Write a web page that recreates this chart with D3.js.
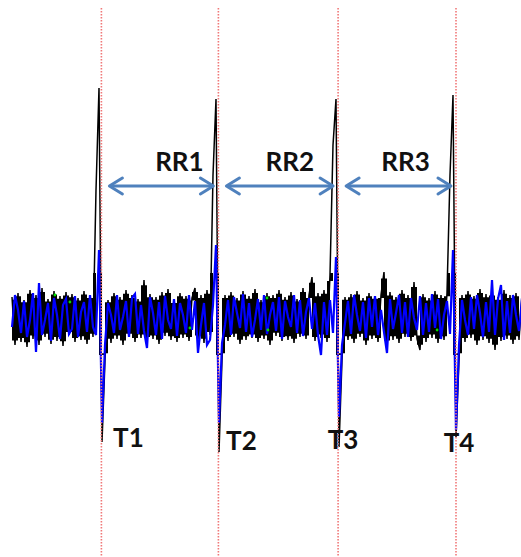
<!DOCTYPE html>
<html>
<head>
<meta charset="utf-8">
<script src="https://cdn.jsdelivr.net/npm/d3@7"></script>
<style>
  html, body { margin: 0; padding: 0; background: #fff; }
  svg { display: block; }
  text { font-family: Lato, "Open Sans", sans-serif; font-weight: 700; fill: #111; }
</style>
</head>
<body>
<div id="chart"></div>
<script>
let w = 521;
let h = 557;

// black trace, one sample every step (amplitude, arbitrary units)
const blackTrace = [
  0.18, -0.3, 0.22, -0.27, 0.15, -0.32, 0.25, -0.24, 0.2, -0.3,
  0.27, -0.22, 0.16, -0.29, 0.24, -0.26, 0.19, -0.31, 0.23, -0.2,
  0.21, -0.27, 0.17, -0.25, 0.24, -0.29, 0.2, -0.22, 1.25, 2.27,
  -1.27, -0.45, 0.15, -0.28, 0.22, -0.24, 0.18, -0.3, 0.25, -0.22,
  0.2, -0.27, 0.16, -0.23, 0.35, -0.26, 0.21, -0.24, 0.18, -0.29,
  0.23, -0.21, 0.26, -0.25, 0.14, -0.27, 0.22, -0.23, 0.19, -0.26,
  0.17, 0.27, -0.24, 0.2, -0.28, 0.25, -0.2, 1.4, 2.16, -1.37,
  -0.45, 0.2, -0.26, 0.23, -0.22, 0.17, -0.29, 0.24, -0.25, 0.19,
  -0.23, 0.26, -0.27, 0.15, -0.24, 0.22, -0.3, 0.2, -0.21, 0.25,
  -0.26, 0.18, -0.25, 0.23, -0.28, 0.16, -0.22, 0.27, -0.24, 0.2,
  0.38, -0.26, 0.22, -0.23, 0.25, -0.27, 0.4, 1.7, 2.16, -1.32,
  -0.45, 0.18, -0.25, 0.21, -0.28, 0.24, -0.22, 0.17, -0.3, 0.22,
  -0.24, 0.19, -0.27, 0.2, 0.43, -0.3, 0.23, -0.25, 0.18, -0.28,
  0.25, -0.22, 0.2, -0.26, 0.33, -0.24, -0.35, 0.21, -0.27, 0.17,
  -0.23, 0.24, -0.28, 0.2, -0.25, 0.22, 1.4, 2.2, -1.22, -0.45,
  0.2, -0.27, 0.24, -0.23, 0.19, -0.3, 0.26, -0.25, 0.21, -0.28,
  0.23, -0.35, 0.18, -0.26, 0.25, -0.24, 0.2, -0.29, 0.22, -0.25, 0.2
];

// blue trace, same sampling
const blueTrace = [
  -0.12, 0.2, 0.05, -0.18, 0.14, -0.22, -0.05, 0.22, -0.37, 0.32,
  -0.2, -0.05, 0.12, -0.26, 0.17, 0.0, -0.24, 0.1, 0.16, -0.19,
  -0.14, 0.19, -0.22, 0.03, 0.13, -0.17, 0.2, -0.12, -0.2, 0.65,
  -1.08, -0.3, 0.12, 0.0, -0.18, 0.2, -0.15, -0.02, 0.14, -0.22,
  0.17, 0.21, -0.19, 0.1, -0.16, -0.33, 0.18, 0.02, -0.2, 0.13,
  -0.24, 0.19, -0.05, -0.14, 0.16, -0.21, 0.12, 0.0, -0.18, 0.2,
  -0.15, 0.14, -0.38, -0.1, 0.12, -0.3, -0.25, 0.1, 0.7, -1.08,
  -0.28, -0.1, 0.15, -0.2, 0.18, 0.02, -0.13, 0.21, -0.17, 0.12,
  -0.22, -0.05, 0.16, -0.15, 0.2, -0.19, 0.0, 0.13, -0.16, 0.18,
  -0.24, 0.14, -0.02, -0.12, 0.2, -0.18, 0.15, -0.21, 0.03, 0.17,
  -0.14, 0.12, -0.2, -0.4, 0.13, -0.2, 0.15, -0.18, 0.58, -1.02,
  -0.3, -0.08, 0.14, -0.19, 0.2, 0.0, -0.16, 0.13, -0.23, 0.17,
  -0.12, 0.19, -0.2, 0.05, -0.17, -0.38, 0.16, -0.14, 0.02, 0.2,
  -0.18, 0.13, -0.22, 0.17, -0.03, -0.15, 0.19, -0.2, 0.12, -0.17,
  0.21, -0.13, 0.16, -0.24, 0.0, 0.14, -0.19, 0.65, -1.15, -0.3,
  0.15, -0.05, -0.2, 0.18, -0.14, 0.2, 0.02, -0.22, 0.13, -0.17,
  0.35, -0.2, 0.16, 0.3, -0.25, 0.14, -0.18, 0.2, 0.0, -0.16, 0.17
];

// a few visible samples of the green trace: [sample, amplitude]
const greenSamples = [[14.3, 0.2], [19.3, 0.13], [59.3, -0.13], [85, 0.17], [85.3, -0.15], [141.7, -0.15]];

// beat times (in samples) and labels
const beatTimes = [29.8, 68.8, 108.7, 148.0];
const beatLabels = ["T1", "T2", "T3", "T4"];
const intervalLabels = ["RR1", "RR2", "RR3"];

// label placement, pixels
const beatLabelDx = [27, 23, 5, 3];
const beatLabelY = [447, 450, 449, 452];
const intervalLabelDx = [18, 10, 7];
const arrowLevel = 1.29;
// the dense noise band is filled between consecutive samples (shrunk a bit, clipped)
const bandClip = [-0.4, 0.42];
const bandShrink = 0.85;

var x = d3.scaleLinear().domain([0, 170]).range([12, 522]);
var y = d3.scaleLinear().domain([-1.5, 2.5]).range([465, 65]);

var svg = d3.select("#chart").append("svg").attr("width", w).attr("height", h);

var clip = v => Math.max(bandClip[0], Math.min(bandClip[1], v * bandShrink));

// fill of the black trace: each sample step covers the range to the next sample
var bandArea = d3.area()
  .curve(d3.curveStepAfter)
  .x((d, i) => x(i))
  .y0(d => y(clip(Math.min(d[0], d[1]))))
  .y1(d => y(clip(Math.max(d[0], d[1]))));

svg.append("path")
  .datum(d3.pairs(blackTrace))
  .attr("d", bandArea)
  .attr("fill", "#000");

var line = d3.line()
  .x((d, i) => x(i))
  .y(d => y(d));

svg.append("path")
  .datum(blackTrace)
  .attr("d", line)
  .attr("fill", "none")
  .attr("stroke", "#000")
  .attr("stroke-width", 1.5);

svg.append("path")
  .datum(blueTrace)
  .attr("d", line)
  .attr("fill", "none")
  .attr("stroke", "#0000ff")
  .attr("stroke-width", 2.2);

svg.selectAll("circle.green")
  .data(greenSamples)
  .enter()
  .append("circle")
  .attr("class", "green")
  .attr("cx", d => x(d[0]))
  .attr("cy", d => y(d[1]))
  .attr("r", 1.4)
  .attr("fill", "#00dd00");

// red dotted beat markers
svg.selectAll("line.beat")
  .data(beatTimes)
  .enter()
  .append("line")
  .attr("class", "beat")
  .attr("x1", d => x(d))
  .attr("x2", d => x(d))
  .attr("y1", 8)
  .attr("y2", h)
  .attr("stroke", "#f07878")
  .attr("stroke-width", 1.6)
  .attr("stroke-dasharray", "1.5,1.5");

// RR arrows between consecutive beats
var intervals = intervalLabels.map((lab, i) => ({ lab: lab, t0: beatTimes[i], t1: beatTimes[i + 1], dx: intervalLabelDx[i] }));
var arrowColor = "#4f81bd";
var ay = y(arrowLevel);

var arrows = svg.selectAll("g.rr")
  .data(intervals)
  .enter()
  .append("g")
  .attr("class", "rr");

arrows.each(function (d) {
  var g = d3.select(this);
  var xa = x(d.t0) + 8;
  var xb = x(d.t1) - 5;
  g.append("line")
    .attr("x1", xa + 1).attr("x2", xb - 1)
    .attr("y1", ay).attr("y2", ay)
    .attr("stroke", arrowColor)
    .attr("stroke-width", 3);
  [[xa, 1], [xb, -1]].forEach(([tip, dir]) => {
    g.append("path")
      .attr("d", `M${tip + dir * 13},${ay - 8}L${tip},${ay}L${tip + dir * 13},${ay + 8}`)
      .attr("fill", "none")
      .attr("stroke", arrowColor)
      .attr("stroke-width", 3)
      .attr("stroke-linecap", "round")
      .attr("stroke-linejoin", "round");
  });
  g.append("text")
    .attr("x", (xa + xb) / 2 + d.dx)
    .attr("y", ay - 15)
    .attr("text-anchor", "middle")
    .attr("font-size", 26)
    .text(d.lab);
});

// beat labels
svg.selectAll("text.beatlab")
  .data(beatLabels)
  .enter()
  .append("text")
  .attr("class", "beatlab")
  .attr("x", (d, i) => x(beatTimes[i]) + beatLabelDx[i])
  .attr("y", (d, i) => beatLabelY[i])
  .attr("text-anchor", "middle")
  .attr("font-size", 26)
  .text(d => d);
</script>
</body>
</html>
